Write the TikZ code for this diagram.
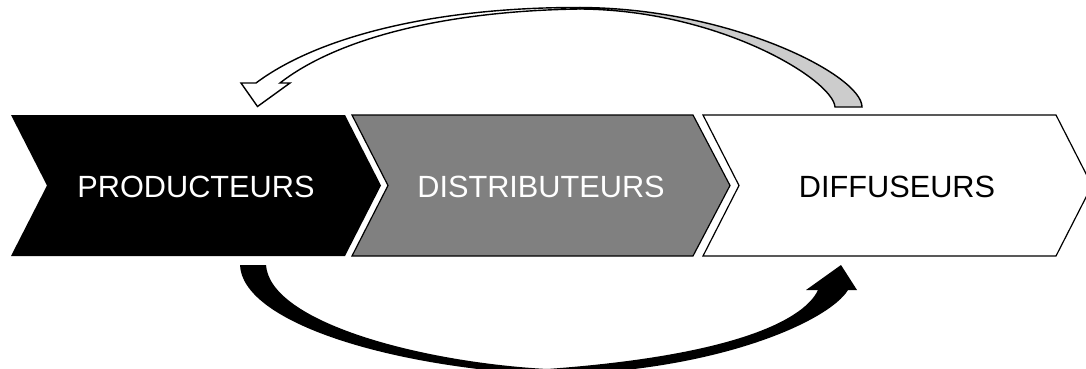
\documentclass[tikz,border=0pt]{standalone}
\usepackage{fontspec}
\setmainfont{Liberation Sans}
\begin{document}
\begin{tikzpicture}[x=1pt,y=-1pt,
  chevlabel/.style={font=\fontsize{30.7}{36}\selectfont, anchor=base, inner sep=0pt},
  outline/.style={draw=black, line width=1.2pt, line join=miter},
  ribbon/.style={draw=black, line width=1.4pt, line join=miter}]
\useasboundingbox (0,0) rectangle (1086,368);
\clip (0,0) rectangle (1086,368);
\fill[white] (0,0) rectangle (1086,368);

% chevrons
\fill[black] (11,115) -- (345,115) -- (381,185.5) -- (345,256) -- (11,256) -- (47,185.5) -- cycle;
\path[outline, fill={rgb,255:red,128;green,128;blue,128}]
  (352,115) -- (693,115) -- (730,185.5) -- (693,256) -- (352,256) -- (388,185.5) -- cycle;
\path[outline, fill=white]
  (703,115) -- (1056,115) -- (1092,185.5) -- (1056,256) -- (703,256) -- (739,185.5) -- cycle;

\node[chevlabel, text=white] (ptext) at (196,197) {PRODUCTEURS};
\node[chevlabel, text=white] (dtext) at (541,197) {DISTRIBUTEURS};
\node[chevlabel, text=black] (ftext) at (897,197) {DIFFUSEURS};

% top curved arrow: back side (grey) on the right
\coordinate (tro) at (862,107);
\coordinate (tri) at (835,107);
\coordinate (tco) at (580,7.5);
\coordinate (tci) at (580,9);
\path[ribbon, fill={rgb,255:red,204;green,204;blue,204}]
  (tro) .. controls (862,75) and (730,8) .. (tco)
  -- (tci) .. controls (720,10) and (833,80) .. (tri) -- cycle;
% front side (white) with head on the left
\path[ribbon, fill=white]
  (tco) .. controls (440,7) and (320,35) .. (256,83)
  -- (241,83) -- (257.5,106.5) -- (290,83) -- (280,83)
  .. controls (335,40) and (440,11) .. (tci) -- cycle;

% bottom curved arrow (black)
\coordinate (bso) at (240,265);
\coordinate (bsi) at (266,265);
\coordinate (bmo) at (547,375);
\coordinate (bmi) at (547,369);
\fill[black]
  (bso) .. controls (242,320) and (380,366) .. (bmo)
  .. controls (720,372) and (830,320) .. (848,290)
  -- (857,290) -- (841,265) -- (806,290) -- (818,290)
  .. controls (805,318) and (740,355) .. (bmi)
  .. controls (420,362) and (270,322) .. (bsi) -- cycle;
\end{tikzpicture}
\end{document}
